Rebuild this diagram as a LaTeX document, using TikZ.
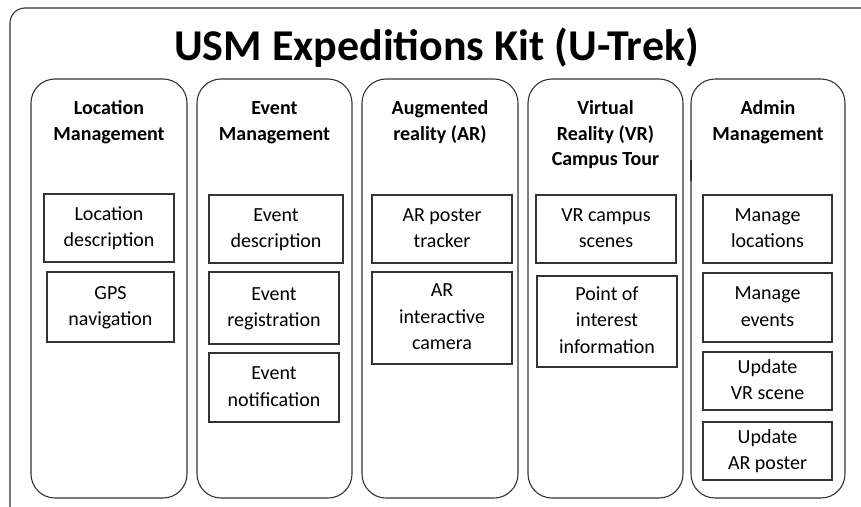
\documentclass[tikz,border=0pt]{standalone}
\usepackage{fontspec}
\setmainfont{Carlito}
\usepackage{tikz}
\usetikzlibrary{calc}

\begin{document}
\begin{tikzpicture}[y=1pt, x=1pt, yscale=-1, xscale=1, inner sep=0pt, outer sep=0pt,
  frame/.style={draw=black!80,line width=1.1pt,rounded corners=15pt},
  column/.style={draw=black!80,line width=1.1pt,rounded corners=24pt,rectangle},
  item/.style={draw=black!80,line width=1.1pt,rectangle,align=center,
    font=\fontsize{20}{26.5}\selectfont},
  heading/.style={anchor=north,align=center,
    font=\fontsize{20}{25.5}\selectfont\bfseries}]
  \clip (0,0) rectangle (861,506);
  \path[fill=white] (0,0) rectangle (861,506);
  % outer frame, runs off the right and bottom
  \path[frame] (10,530) -- (10,8) -- (890,8);
  \path (436.5,60) node[anchor=base,font=\fontsize{44}{50}\selectfont\bfseries]
    (title) {USM Expeditions Kit (U-Trek)};

  % columns
  \path (109,288.5) node[column,minimum width=156pt,minimum height=419pt] (colLocation) {};
  \path (274.5,288.5) node[column,minimum width=155pt,minimum height=419pt] (colEvent) {};
  \path (440,288.5) node[column,minimum width=156pt,minimum height=419pt] (colAR) {};
  \path (605.5,288.5) node[column,minimum width=155pt,minimum height=419pt] (colVR) {};
  \path (768,288.5) node[column,minimum width=154pt,minimum height=419pt] (colAdmin) {};
  \path[draw=black!80,line width=2.2pt] (691,160) -- (691,181);

  % column headings (struts keep the first baselines level)
  \path (109,97) node[heading] (headLocation) {\strut Location\\Management};
  \path (274.5,97) node[heading] (headEvent) {\strut Event\\Management};
  \path (440,97) node[heading] (headAR) {\strut Augmented\\reality (AR)};
  \path (605.5,97) node[heading] (headVR) {\strut Virtual\\Reality (VR)\\Campus Tour};
  \path (768,97) node[heading] (headAdmin) {\strut Admin\\Management};

  % location management
  \path (109,228) node[item,minimum width=130pt,minimum height=68pt] (locDesc) {\strut Location\\description\strut};
  \path (110.5,307) node[item,minimum width=127pt,minimum height=70pt] (locGps) {\strut GPS\\navigation\strut};

  % event management
  \path (276,229) node[item,minimum width=134pt,minimum height=68pt] (evDesc) {\strut Event\\description\strut};
  \path (274,308) node[item,minimum width=130pt,minimum height=72pt] (evReg) {\strut Event\\registration\strut};
  \path (274,387.5) node[item,minimum width=130pt,minimum height=69pt] (evNotif) {\strut Event\\notification\strut};

  % augmented reality
  \path (442,229) node[item,minimum width=140pt,minimum height=68pt] (arTracker) {\strut AR poster\\tracker\strut};
  \path (442,318) node[item,minimum width=140pt,minimum height=92pt] (arCamera) {\strut AR\\interactive\\camera\strut};

  % virtual reality
  \path (606,229) node[item,minimum width=140pt,minimum height=68pt] (vrScenes) {\strut VR campus\\scenes\strut};
  \path (607,321.5) node[item,minimum width=140pt,minimum height=91pt] (vrPoi) {\strut Point of\\interest\\information\strut};

  % admin management
  \path (767.5,229) node[item,minimum width=129pt,minimum height=68pt] (admLoc) {\strut Manage\\locations\strut};
  \path (767.5,307.5) node[item,minimum width=129pt,minimum height=69pt] (admEv) {\strut Manage\\events\strut};
  \path (767.5,381) node[item,minimum width=129pt,minimum height=58pt] (admVR) {\strut Update\\VR scene\strut};
  \path (767.5,451) node[item,minimum width=129pt,minimum height=58pt] (admAR) {\strut Update\\AR poster\strut};

\end{tikzpicture}
\end{document}
